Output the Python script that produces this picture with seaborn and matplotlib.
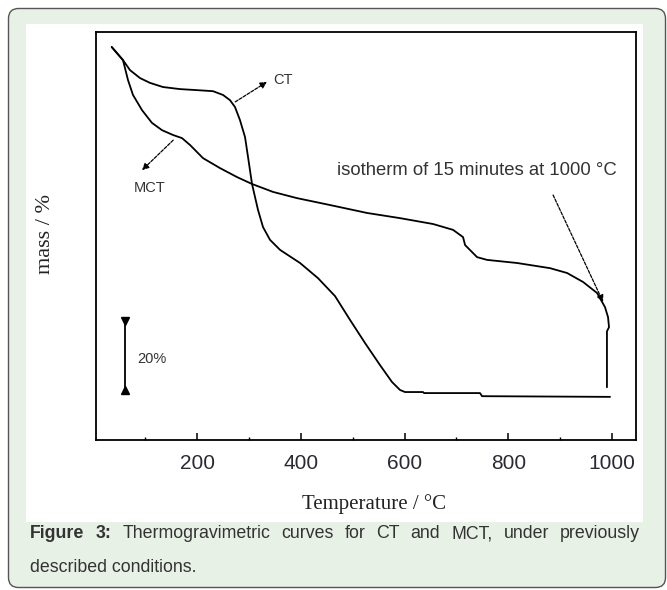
import numpy as np
import pandas as pd
import matplotlib
matplotlib.use("Agg")
import matplotlib.pyplot as plt
import seaborn as sns
from matplotlib.patches import FancyBboxPatch, Rectangle

# ---------------- data ----------------
ct_temp = [35.6, 57.3, 70.8, 90.1, 109.4, 134.4, 167.2, 200.0, 230.8, 250.1, 263.5,
           273.2, 282.8, 292.5, 298.3, 306.0, 311.8, 317.5, 327.2, 340.7, 360.0,
           398.5, 433.2, 466.0, 494.9, 523.8, 552.7, 575.8, 591.2, 600.8, 635.5,
           637.5, 745.4, 749.3, 996.0]
ct_mass = [100.0, 96.2, 93.3, 91.0, 89.6, 88.4, 87.8, 87.5, 87.2, 86.1, 84.6,
           82.6, 78.8, 73.9, 68.1, 60.3, 56.5, 52.8, 47.8, 44.1, 41.2,
           37.4, 33.0, 27.8, 20.9, 14.2, 7.8, 2.9, 0.6, 0.0, 0.0,
           -0.3, -0.3, -1.2, -1.4]

mct_temp = [35.6, 57.3, 67.0, 76.6, 94.0, 113.2, 132.5, 153.7, 171.0, 186.5, 211.5,
            244.3, 277.1, 306.0, 346.5, 392.7, 456.3, 527.7, 591.3, 654.9, 693.5,
            712.7, 716.6, 739.7, 759.0, 816.8, 880.4, 913.2, 944.0, 971.0, 986.3,
            992.1, 994.0, 990.0, 990.0]
mct_mass = [100.0, 96.2, 90.4, 86.1, 81.7, 78.0, 75.9, 74.5, 73.6, 71.6, 67.8,
            64.9, 62.3, 60.3, 58.0, 56.2, 54.2, 51.9, 50.4, 48.7, 47.0,
            44.9, 42.6, 39.1, 38.3, 37.4, 35.9, 34.5, 31.9, 28.7, 24.6,
            21.7, 18.8, 17.6, 1.4]

x_ticks = [200, 400, 600, 800, 1000]
x_minor = [100, 300, 500, 700, 900]
scale_bar = [0.5, 20.5]          # 20 % scale bar
labels = {"ct": "CT", "mct": "MCT",
          "iso": "isotherm of 15 minutes at 1000 \u00b0C", "bar": "20%"}
x_label = "Temperature / \u00b0C"
y_label = "mass / %"
caption_bold = "Figure 3:"
caption_line1 = "Thermogravimetric curves for CT and MCT, under previously"
caption_line2 = "described conditions."

# ---------------- figure ----------------
sns.set_style("white")
plt.rcParams["font.family"] = ["Liberation Sans", "DejaVu Sans"]

W, H = 667, 590
fig = plt.figure(figsize=(W / 100, H / 100), dpi=100)

bg = fig.add_axes([0, 0, 1, 1])
bg.set_xlim(0, W)
bg.set_ylim(H, 0)
bg.axis("off")
bg.add_patch(FancyBboxPatch((8.5, 8.5), 657, 579,
                            boxstyle="round,pad=0,rounding_size=10",
                            fc="#e8f1e6", ec="#555555", lw=1.0))
bg.add_patch(Rectangle((26, 24), 617, 498, fc="white", ec="none"))

ax = fig.add_axes([96 / W, 1 - 440 / H, (636 - 96) / W, (440 - 32) / H])
ax.set_facecolor("white")

df_ct = pd.DataFrame({"T": ct_temp, "m": ct_mass})
df_mct = pd.DataFrame({"T": mct_temp, "m": mct_mass})
sns.lineplot(data=df_ct, x="T", y="m", ax=ax, color="black", lw=1.3,
             sort=False, estimator=None)
sns.lineplot(data=df_mct, x="T", y="m", ax=ax, color="black", lw=1.3,
             sort=False, estimator=None)

ax.set_xlim(5.3, 1046)
ax.set_ylim(-13.9, 104.35)

for s in ax.spines.values():
    s.set_visible(True)
    s.set_color("black")
    s.set_linewidth(1.3)

ax.set_xticks(x_ticks)
ax.set_xticks(x_minor, minor=True)
ax.set_yticks([])
ax.tick_params(axis="x", which="major", direction="in", length=5, width=1.1,
               bottom=True, top=False, pad=10, labelsize=15, labelcolor="#2a2a35",
               color="black")
ax.tick_params(axis="x", which="minor", direction="in", length=2.5, width=1.0,
               bottom=True, top=False, color="black")

ax.set_xlabel(x_label, family="Liberation Serif", fontsize=15, color="#222222")
ax.xaxis.set_label_coords(0.515, -0.158)
ax.xaxis.label.set_va("center")
ax.set_ylabel(y_label, family="Liberation Serif", fontsize=16, color="#222222")
ax.yaxis.set_label_coords(-0.094, 0.505)
ax.yaxis.label.set_va("center")

# annotations
txt_kw = dict(color="#333333", fontsize=10.5)
arrow_kw = dict(arrowstyle="-|>", color="black", lw=0.9, linestyle=(0, (2.5, 1.2)),
                mutation_scale=10, shrinkA=0, shrinkB=0)
ax.annotate("", xy=(334.9, 89.9), xytext=(273.7, 84.1), arrowprops=arrow_kw)
ax.text(365.8, 90.3, labels["ct"], ha="center", va="center", **txt_kw)
ax.annotate("", xy=(94.0, 64.3), xytext=(154.1, 73.0), arrowprops=arrow_kw)
ax.text(109.5, 59.1, labels["mct"], ha="center", va="center", **txt_kw)
ax.annotate("", xy=(982.6, 26.1), xytext=(886.2, 57.1), arrowprops=arrow_kw)
ax.text(739.7, 64.3, labels["iso"], ha="center", va="center",
        color="#333333", fontsize=13.3)

# 20 % scale bar
ax.plot([61.2, 61.2], scale_bar, color="black", lw=1.3)
ax.plot([61.2], [scale_bar[1]], marker="v", color="black", ms=6)
ax.plot([61.2], [scale_bar[0]], marker="^", color="black", ms=6)
ax.text(84.3, 9.5, labels["bar"], ha="left", va="center", **txt_kw)

# ---------------- caption (justified first line) ----------------
fig.canvas.draw()
renderer = fig.canvas.get_renderer()
cap_kw = dict(fontsize=12.8, color="#333333", va="center")
words = [(w, "bold") for w in caption_bold.split()] + \
        [(w, "normal") for w in caption_line1.split()]
widths = []
for w, wt in words:
    t = bg.text(0, 0, w, fontweight=wt, **cap_kw)
    widths.append(t.get_window_extent(renderer).width)
    t.remove()
x0, x1 = 30, 640
gap = (x1 - x0 - sum(widths)) / (len(words) - 1)
x = x0
for (w, wt), wd in zip(words, widths):
    bg.text(x, 534, w, fontweight=wt, ha="left", **cap_kw)
    x += wd + gap
bg.text(30, 568, caption_line2, ha="left", **cap_kw)

fig.savefig("out.png", dpi=100)
